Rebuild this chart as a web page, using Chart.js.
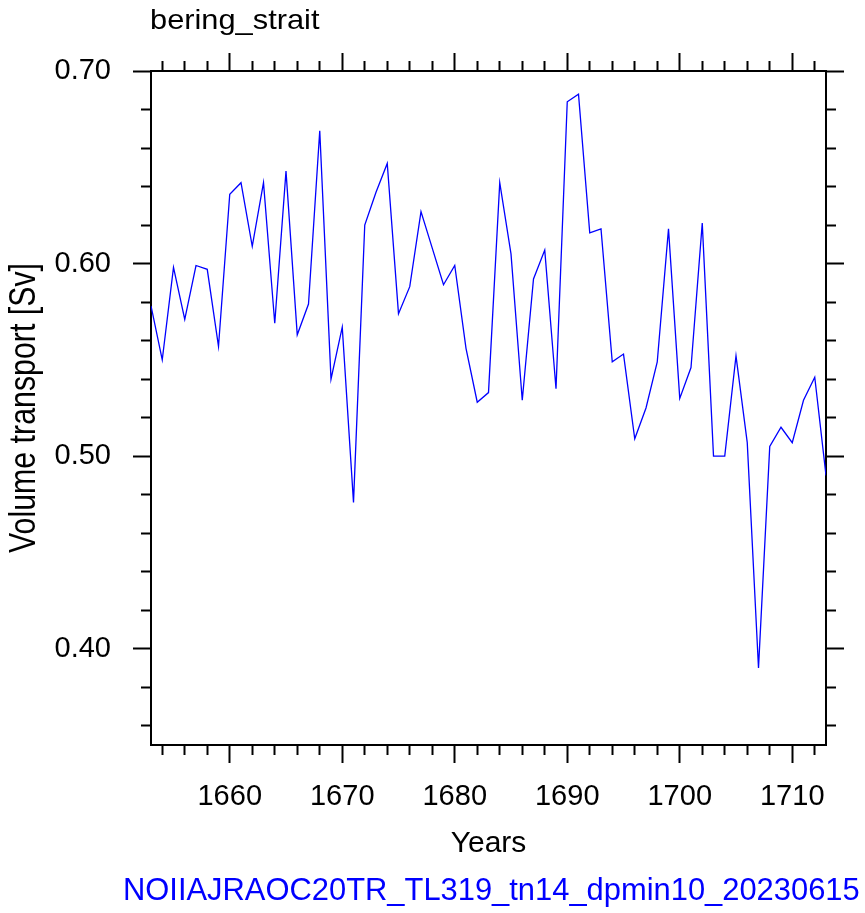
<!DOCTYPE html>
<html>
<head>
<meta charset="utf-8">
<script src="https://cdn.jsdelivr.net/npm/chart.js@4.4.1/dist/chart.umd.min.js"></script>
<style>
html, body { margin: 0; padding: 0; background: #ffffff; }
canvas { display: block; }
</style>
</head>
<body>
<canvas id="c" width="865" height="913"></canvas>
<script>
// ---------------- data ----------------
const chartTitle = 'bering_strait';
const xTitle = 'Years';
const yTitle = 'Volume transport [Sv]';
const footerText = 'NOIIAJRAOC20TR_TL319_tn14_dpmin10_20230615';

const years = [
  1653, 1654, 1655, 1656, 1657, 1658, 1659, 1660, 1661, 1662,
  1663, 1664, 1665, 1666, 1667, 1668, 1669, 1670, 1671, 1672,
  1673, 1674, 1675, 1676, 1677, 1678, 1679, 1680, 1681, 1682,
  1683, 1684, 1685, 1686, 1687, 1688, 1689, 1690, 1691, 1692,
  1693, 1694, 1695, 1696, 1697, 1698, 1699, 1700, 1701, 1702,
  1703, 1704, 1705, 1706, 1707, 1708, 1709, 1710, 1711, 1712,
  1713
];

const transport = [
  0.578, 0.550, 0.598, 0.571, 0.599, 0.597, 0.557, 0.636, 0.642, 0.609,
  0.642, 0.569, 0.648, 0.563, 0.579, 0.669, 0.540, 0.567, 0.476, 0.620,
  0.637, 0.652, 0.574, 0.588, 0.627, 0.608, 0.589, 0.599, 0.556, 0.528,
  0.533, 0.642, 0.605, 0.529, 0.592, 0.607, 0.535, 0.684, 0.688, 0.616,
  0.618, 0.549, 0.553, 0.509, 0.525, 0.549, 0.618, 0.530, 0.546, 0.621,
  0.500, 0.500, 0.552, 0.507, 0.390, 0.505, 0.515, 0.507, 0.529, 0.541,
  0.490
];

const xTickLabels = ['1660', '1670', '1680', '1690', '1700', '1710'];
const yTickLabels = ['0.40', '0.50', '0.60', '0.70'];

const xRange = [1653, 1713];
const yRange = [0.35, 0.70];
const xMinorStep = 2;
const yMinorStep = 0.02;

// ---------------- helpers ----------------
const FONT = "'Liberation Sans', Arial, Helvetica, sans-serif";
Chart.defaults.font.family = FONT;
Chart.defaults.color = '#000000';

function isXMajor(v) { return xTickLabels.includes(String(Math.round(v))) && Math.abs(v - Math.round(v)) < 1e-6; }
function isYMajor(v) { return yTickLabels.includes(v.toFixed(2)) && Math.abs(v * 10 - Math.round(v * 10)) < 1e-6; }

function buildTicks(step) {
  return function (scale) {
    const out = [];
    const s = Math.ceil(scale.min / step - 1e-9);
    const e = Math.floor(scale.max / step + 1e-9);
    for (let i = s; i <= e; i++) out.push({ value: Math.round(i * step * 1e6) / 1e6 });
    scale.ticks = out;
  };
}

// minor ticks are shorter: dash keeps only the part next to the axis line
function dashFor(isMajor, startsAtAxis) {
  return function (ctx) {
    if (!ctx.tick) return [];
    if (isMajor(ctx.tick.value)) return [];
    return startsAtAxis ? [9, 200] : [0, 8, 9, 200];
  };
}

const TICK_LEN = 18;
const borderOpt = { display: true, width: 2, color: '#000000' };

function gridOpt(isMajor, startsAtAxis) {
  return {
    drawOnChartArea: false,
    drawTicks: true,
    tickLength: TICK_LEN,
    tickWidth: 2,
    tickColor: '#000000',
    tickBorderDash: dashFor(isMajor, startsAtAxis)
  };
}

// free text (title, axis titles, footer) drawn on the canvas as text
function drawText(ctx, text, x, y, size, sx, align, color, rot) {
  ctx.save();
  ctx.translate(x, y);
  if (rot) ctx.rotate(rot);
  ctx.scale(sx, 1);
  ctx.font = size + 'px ' + FONT;
  ctx.fillStyle = color;
  ctx.textAlign = align;
  ctx.textBaseline = 'alphabetic';
  ctx.fillText(text, 0, 0);
  ctx.restore();
}

const textPlugin = {
  id: 'texts',
  afterDraw(chart) {
    const ctx = chart.ctx;
    const a = chart.chartArea;
    drawText(ctx, chartTitle, a.left - 1, a.top - 42.5, 28, 1.1, 'left', '#000000');
    drawText(ctx, yTitle, 35, (a.top + a.bottom) / 2, 37, 0.82, 'center', '#000000', -Math.PI / 2);
    drawText(ctx, xTitle, (a.left + a.right) / 2, a.bottom + 107, 30, 1, 'center', '#000000');
    drawText(ctx, footerText, 123, a.bottom + 155, 30.9, 1, 'left', '#0000ff');
  }
};

// ---------------- chart ----------------
new Chart(document.getElementById('c'), {
  type: 'line',
  data: {
    datasets: [{
      data: years.map((y, i) => ({ x: y, y: transport[i] })),
      borderColor: '#0000ff',
      borderWidth: 1.3,
      pointRadius: 0,
      tension: 0,
      fill: false
    }]
  },
  options: {
    responsive: false,
    animation: false,
    devicePixelRatio: 1,
    events: [],
    layout: { padding: 0 },
    plugins: { legend: { display: false }, tooltip: { enabled: false }, title: { display: false } },
    scales: {
      x: {
        type: 'linear', position: 'bottom', min: xRange[0], max: xRange[1],
        afterBuildTicks: buildTicks(xMinorStep),
        afterFit: s => { s.height = 168; },
        border: borderOpt,
        grid: gridOpt(isXMajor, true),
        ticks: {
          autoSkip: false, maxRotation: 0, minRotation: 0, padding: 17,
          font: { size: 29 }, color: '#000000',
          callback: v => (isXMajor(v) ? String(Math.round(v)) : '')
        }
      },
      x2: {
        type: 'linear', axis: 'x', position: 'top', min: xRange[0], max: xRange[1],
        afterBuildTicks: buildTicks(xMinorStep),
        afterFit: s => { s.height = 71; },
        border: borderOpt,
        grid: gridOpt(isXMajor, false),
        ticks: { display: false, autoSkip: false }
      },
      y: {
        type: 'linear', position: 'left', min: yRange[0], max: yRange[1],
        afterBuildTicks: buildTicks(yMinorStep),
        afterFit: s => { s.width = 151; },
        border: borderOpt,
        grid: gridOpt(isYMajor, false),
        ticks: {
          autoSkip: false, padding: 22,
          font: { size: 29 }, color: '#000000',
          callback: v => (isYMajor(v) ? v.toFixed(2) : '')
        }
      },
      y2: {
        type: 'linear', axis: 'y', position: 'right', min: yRange[0], max: yRange[1],
        afterBuildTicks: buildTicks(yMinorStep),
        afterFit: s => { s.width = 39; },
        border: borderOpt,
        grid: gridOpt(isYMajor, true),
        ticks: { display: false, autoSkip: false }
      }
    }
  },
  plugins: [textPlugin]
});
</script>
</body>
</html>
